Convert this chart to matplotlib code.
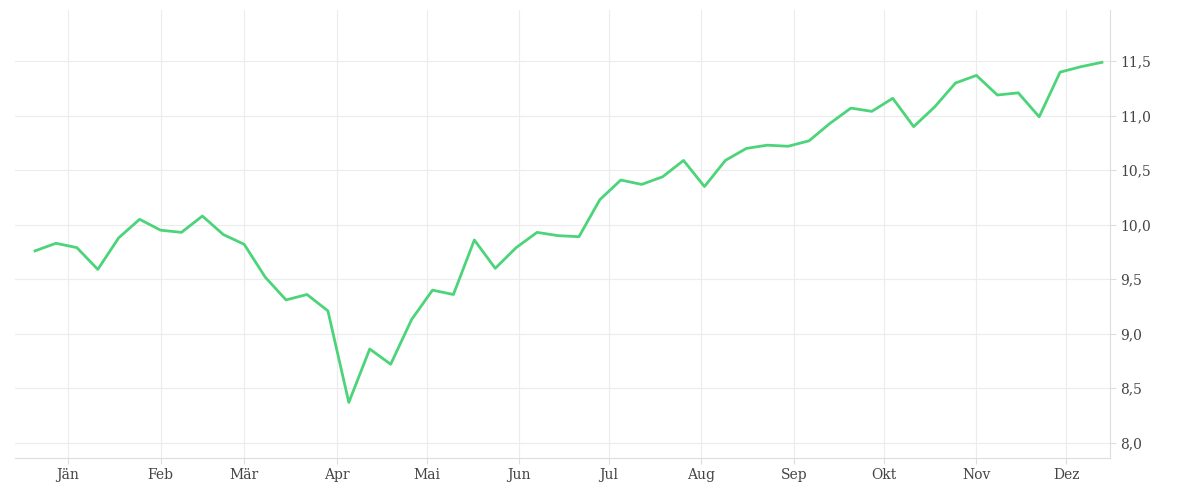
import matplotlib
matplotlib.use("Agg")
import matplotlib.pyplot as plt
import pandas as pd
from matplotlib.ticker import FuncFormatter

values = [9.76,9.83,9.79,9.59,9.88,10.05,9.95,9.93,10.08,9.91,9.82,9.52,9.31,9.36,9.21,8.37,
          8.86,8.72,9.13,9.40,9.36,9.86,9.60,9.79,9.93,9.90,9.89,10.23,10.41,10.37,10.44,10.59,
          10.35,10.59,10.70,10.73,10.72,10.77,10.93,11.07,11.04,11.16,10.90,11.08,11.30,11.37,
          11.19,11.21,10.99,11.40,11.45,11.49]
dates = pd.date_range("2021-01-04", periods=len(values), freq="7D")
month_labels = ["Jän","Feb","Mär","Apr","Mai","Jun","Jul","Aug","Sep","Okt","Nov","Dez"]
month_ticks = [pd.Timestamp(2021, m, 15) for m in range(1, 13)]
y_ticks = [8.0,8.5,9.0,9.5,10.0,10.5,11.0,11.5]

fig = plt.figure(figsize=(12,5), dpi=100)
ax = fig.add_axes([15/1200, 42/500, 1095/1200, 448/500])
ax.plot(dates, values, color="#4cd47a", lw=2)
ax.set_xticks(month_ticks)
ax.set_xticklabels(month_labels)
ax.set_xlim(dates[0]-pd.Timedelta(days=6.7), dates[-1]+pd.Timedelta(days=2.7))
ax.set_ylim(7.86, 11.97)
ax.set_yticks(y_ticks)
ax.yaxis.set_major_formatter(FuncFormatter(lambda v,p: f"{v:.1f}".replace(".",",")))
ax.yaxis.tick_right()
ax.grid(True, color="#ececec", lw=0.8)
for s in ["top","left"]:
    ax.spines[s].set_visible(False)
for s in ["bottom","right"]:
    ax.spines[s].set_color("#dddddd")
ax.tick_params(colors="#444444", labelsize=10, length=4)
ax.tick_params(axis="both", color="#dddddd")
for lab in ax.get_xticklabels()+ax.get_yticklabels():
    lab.set_family("DejaVu Serif")
fig.savefig("out.png")
